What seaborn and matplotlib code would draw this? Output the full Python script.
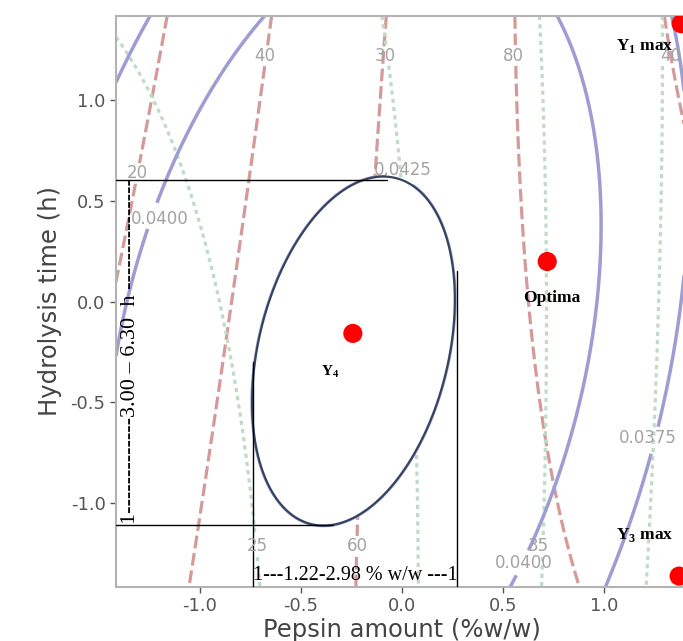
import numpy as np
import matplotlib.pyplot as plt
import seaborn as sns

# fitted quadratic response surfaces: b0, b1*x, b2*y, b11*x^2, b22*y^2, b12*x*y
red_coef = [64.64, 26.57, -0.7721, -3.186, -0.4823, 4.532]
green_coef = [29.74, 6.429, 0.4032, 1.305, 0.1208, -0.5438]
blue_coef = [0.0428764, -0.00086891, -0.00018208, -0.002194, -0.00073762, 0.00075035]

red_levels = [20, 40, 60, 80, 100]
green_levels = [25, 30, 35, 40]
blue_levels = [0.0375, 0.0400, 0.0425]

# marked points
point_names = ["Y1 max", "Optima", "Y4", "Y3 max"]
point_x = [1.38, 0.718, -0.243, 1.37]
point_y = [1.376, 0.198, -0.158, -1.36]

x_ticks = [-1.0, -0.5, 0.0, 0.5, 1.0]
y_ticks = [-1.0, -0.5, 0.0, 0.5, 1.0]


def surf(c, X, Y):
    return c[0] + c[1] * X + c[2] * Y + c[3] * X ** 2 + c[4] * Y ** 2 + c[5] * X * Y


sns.set_theme(style="white")
plt.rcParams["axes.unicode_minus"] = False
plt.rcParams["mathtext.fontset"] = "custom"
plt.rcParams["mathtext.rm"] = "Liberation Serif:bold"
plt.rcParams["mathtext.bf"] = "Liberation Serif:bold"

fig = plt.figure(figsize=(6.83, 6.41), dpi=100)
ax = fig.add_axes([116 / 683, 54 / 641, 572 / 683, 571 / 641])

g = np.linspace(-1.414, 1.414, 400)
X, Y = np.meshgrid(g, g)
ZR, ZG, ZB = surf(red_coef, X, Y), surf(green_coef, X, Y), surf(blue_coef, X, Y)

# contour lines
cs_r = ax.contour(X, Y, ZR, levels=red_levels, colors="#d49a9a", linewidths=2.3)
cs_r.set_linestyle((0, (4, 1.5)))
cs_g = ax.contour(X, Y, ZG, levels=green_levels, colors="#bddcc3", linewidths=2.3)
cs_g.set_linestyle((0, (1.3, 1.3)))
cs_b = ax.contour(X, Y, ZB, levels=blue_levels, colors="#9d9dd4", linewidths=2.5)

# contour labels, kept horizontal like the original
label_sets = [
    (cs_r, [20, 40, 60, 80], "%d", 0,
     [(-1.307, 0.634), (-0.678, 1.218), (-0.223, -1.213), (0.55, 1.218)]),
    (cs_g, green_levels, "%d", 0,
     [(-0.713, -1.213), (-0.084, 1.218), (0.673, -1.213), (1.327, 1.218)]),
    (cs_b, blue_levels, "%.4f", -15,
     [(-1.198, 0.411), (0.005, 0.649), (0.6, -1.297), (1.213, -0.678)]),
]
for cs, lv, fmt, gap, spots in label_sets:
    texts = ax.clabel(cs, levels=lv, fmt=fmt, manual=spots, inline=True, fontsize=12,
                      colors="#a3a3a3", inline_spacing=gap)
    for t, pos in zip(texts, spots):
        t.set_rotation(0)
        t.set_position(pos)
        t.set_zorder(6)

# feasible region (white ellipse with dark outline)
ax.contourf(X, Y, ZB, levels=[0.0425, 1], colors="white", zorder=3)
ax.contour(X, Y, ZB, levels=[0.0425], colors="#35445e", linewidths=1.6, zorder=4)

# range brackets
line_kw = dict(color="black", lw=1.0, zorder=5)
ax.plot([-1.414, -0.074], [0.604, 0.604], **line_kw)
ax.plot([-1.414, -0.34], [-1.109, -1.109], **line_kw)
ax.plot([-0.738, -0.738], [-0.30, -1.414], **line_kw)
ax.plot([0.27, 0.27], [0.15, -1.414], **line_kw)
ax.text(-1.34, -0.245, "1" + "-" * 13 + "3.00 – 6.30  h " + "-" * 15, rotation=90,
        ha="center", va="center", fontsize=16, family="Liberation Serif", color="black", zorder=6)
ax.text(-0.233, -1.356, "1---1.22-2.98 % w/w ---1", ha="center", va="center",
        fontsize=14.5, family="Liberation Serif", color="black", zorder=6)

# optimum points
sns.scatterplot(x=point_x, y=point_y, s=190, color="#ff0000", edgecolor="none", ax=ax, zorder=7, legend=False)
txt_kw = dict(ha="center", va="center", family="Liberation Serif", fontweight="bold",
              color="black", zorder=8)
ax.text(1.2, 1.267, r"Y$_{1}$ max", fontsize=12.5, **txt_kw)
ax.text(0.738, 0.015, "Optima", fontsize=12.5, **txt_kw)
ax.text(-0.356, -0.347, r"Y$_{4}$", fontsize=11, **txt_kw)
ax.text(1.2, -1.158, r"Y$_{3}$ max", fontsize=12.5, **txt_kw)

ax.set_xlim(-1.414, 1.414)
ax.set_ylim(-1.414, 1.414)
ax.set_xticks(x_ticks)
ax.set_yticks(y_ticks)
ax.tick_params(labelsize=13, colors="#555555", length=4, width=1, left=True, bottom=True)
for s in ax.spines.values():
    s.set_color("#b3b3b3")
    s.set_linewidth(1.5)
ax.set_xlabel("Pepsin amount (%w/w)", fontsize=17.5, color="#444444", labelpad=2)
ax.set_ylabel("Hydrolysis time (h)", fontsize=17.5, color="#444444", labelpad=6)

fig.savefig("out.png", dpi=100)
